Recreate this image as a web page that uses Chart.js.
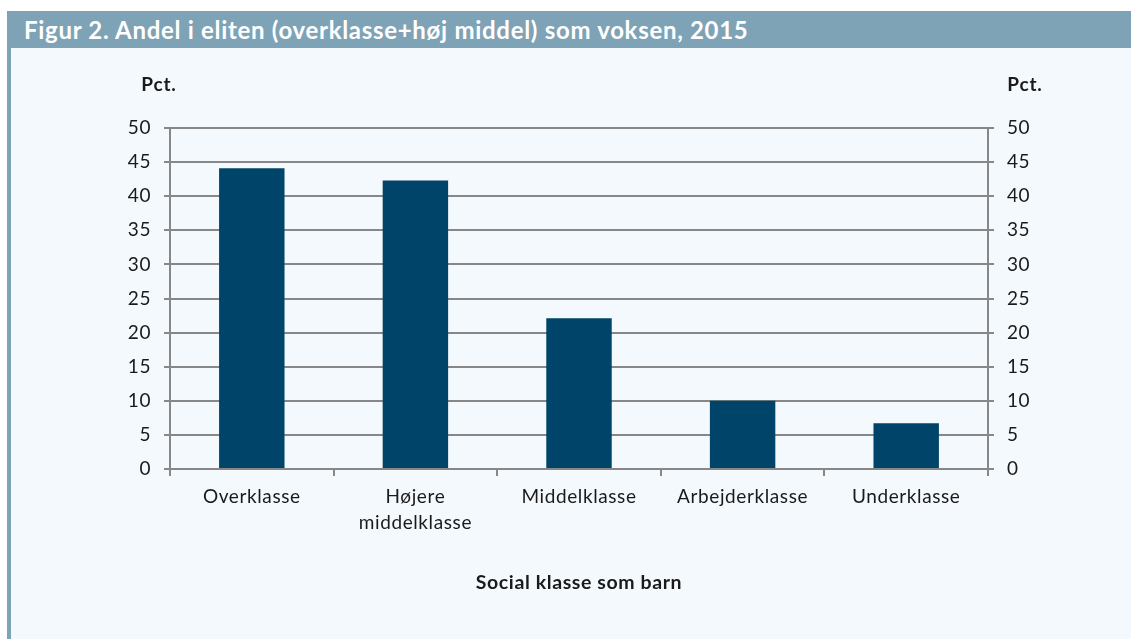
<!DOCTYPE html>
<html>
<head>
<meta charset="utf-8">
<script src="https://cdn.jsdelivr.net/npm/chart.js@4.4.1/dist/chart.umd.min.js"></script>
<style>
  html, body { margin: 0; padding: 0; background: #fff; width: 1131px; height: 639px; overflow: hidden; }
  #head {
    position: absolute; left: 7px; top: 11px; width: 1124px; height: 37px;
    background: #7fa3b6; color: #fff; font: bold 24px Lato, sans-serif; letter-spacing: 0.7px;
    line-height: 37px; padding-left: 17px; box-sizing: border-box; white-space: nowrap;
  }
  #panel {
    position: absolute; left: 7px; top: 48px; width: 1124px; height: 591px;
    background: #f4f9fd; border-left: 4px solid #7fa3b6; box-sizing: border-box;
  }
  #wrap { position: absolute; left: 0; top: 0; width: 1120px; height: 591px; }
</style>
</head>
<body>
<div id="head">Figur 2. Andel i eliten (overklasse+høj middel) som voksen, 2015</div>
<div id="panel"><div id="wrap"><canvas id="chart"></canvas></div></div>
<script>
const categories = ['Overklasse', ['Højere', 'middelklasse'], 'Middelklasse', 'Arbejderklasse', 'Underklasse'];
const shares = [44.1, 42.3, 22.1, 10.0, 6.7];
const yTicks = [0, 5, 10, 15, 20, 25, 30, 35, 40, 45, 50];

const axisGray = '#878787';
const textColor = '#1a1a1a';

// the print font is a bit wider than Lato, so open it up a little
const spacing = {
  id: 'spacing',
  beforeLayout(chart) { chart.ctx.letterSpacing = '0.6px'; },
  beforeDraw(chart) { chart.ctx.letterSpacing = '0.6px'; }
};

// "Pct." above both y axes
const unitLabels = {
  id: 'unitLabels',
  afterDraw(chart) {
    const { ctx, chartArea } = chart;
    ctx.save();
    ctx.letterSpacing = '0.8px';
    ctx.font = 'bold 19px Lato, sans-serif';
    ctx.fillStyle = textColor;
    ctx.textAlign = 'center';
    ctx.textBaseline = 'middle';
    ctx.fillText('Pct.', chartArea.left - 11, chartArea.top - 43);
    ctx.fillText('Pct.', chartArea.right + 37, chartArea.top - 43);
    ctx.restore();
  }
};

const yAxis = (pos) => ({
  position: pos,
  min: 0,
  max: 50,
  afterBuildTicks: s => { s.ticks = yTicks.map(v => ({ value: v })); },
  afterFit: s => { s.width = pos === 'left' ? 159 : 143; },
  grid: {
    color: axisGray, lineWidth: 2, tickLength: 6,
    drawOnChartArea: pos === 'left'
  },
  border: { color: axisGray, width: 2 },
  ticks: { color: textColor, font: { family: 'Lato', size: 19 }, padding: 13 }
});

new Chart(document.getElementById('chart'), {
  type: 'bar',
  data: {
    labels: categories,
    datasets: [{
      data: shares,
      backgroundColor: '#00446a',
      borderWidth: 0,
      barPercentage: 0.8,
      categoryPercentage: 0.5
    }]
  },
  options: {
    responsive: true,
    maintainAspectRatio: false,
    animation: false,
    layout: { padding: { top: 80, left: 0, right: 0, bottom: 0 } },
    plugins: { legend: { display: false }, tooltip: { enabled: false } },
    scales: {
      x: {
        afterFit: s => { s.height = 170; },
        grid: { drawOnChartArea: false, color: axisGray, lineWidth: 2, tickLength: 7, offset: true },
        border: { color: axisGray, width: 2 },
        ticks: { color: textColor, font: { family: 'Lato', size: 19, lineHeight: 1.35 }, padding: 8, maxRotation: 0 },
        title: {
          display: true,
          text: 'Social klasse som barn',
          color: textColor,
          font: { family: 'Lato', size: 19.5, weight: 'bold' },
          padding: { top: 0, bottom: 45 }
        }
      },
      y: yAxis('left'),
      y2: yAxis('right')
    }
  },
  plugins: [spacing, unitLabels]
});
</script>
</body>
</html>
